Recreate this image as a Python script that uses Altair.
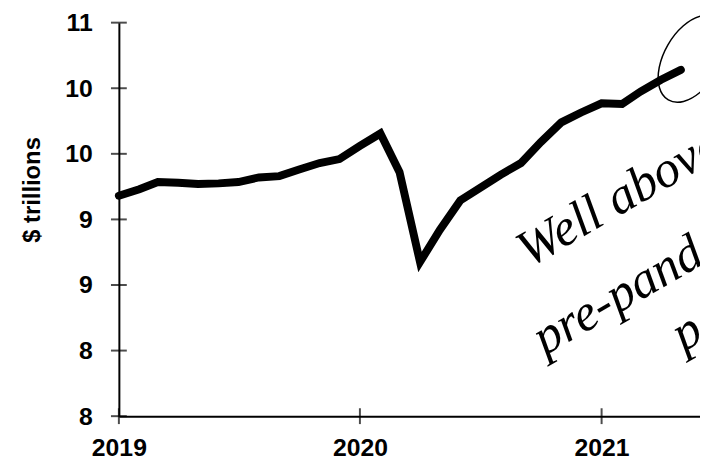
import altair as alt
import pandas as pd

# ---- data -------------------------------------------------------------
months = [f"{y}-{m:02d}-01" for y in (2019, 2020, 2021) for m in range(1, 13)][:29]
values_2019 = [9.68, 9.73, 9.785, 9.78, 9.77, 9.775, 9.785, 9.82, 9.83, 9.88, 9.93, 9.96]
values_2020 = [10.06, 10.155, 9.86, 9.175, 9.42, 9.645, 9.74, 9.84, 9.93, 10.09, 10.24, 10.315]
values_2021 = [10.385, 10.38, 10.475, 10.565, 10.64]
values = values_2019 + values_2020 + values_2021

y_ticks = [8, 8.5, 9, 9.5, 10, 10.5, 11]
x_ticks = ["2019-01-01", "2020-01-01", "2021-01-01"]
x_years = [2019, 2020, 2021]

ann_text = ["Well above", "pre-pandemic", "peak"]
ann_date = ["2020-09-13", "2020-10-07", "2021-05-05"]
ann_value = [9.13, 8.46, 8.49]

circle_date = ["2021-05-18"]
circle_value = [10.725]

df = pd.DataFrame({"date": months, "value": values})
df_yt = pd.DataFrame({"v": y_ticks})
df_xt = pd.DataFrame({"d": x_ticks})
df_ann = pd.DataFrame({"date": ann_date, "value": ann_value, "text": ann_text})
df_circ = pd.DataFrame({"date": circle_date, "value": circle_value})

# ---- chart ------------------------------------------------------------
W, H = 587, 397.5
FONT = "Liberation Sans"

x_scale = alt.Scale(
    type="utc",
    domain=[alt.DateTime(year=2019, month=1, date=1, utc=True),
            alt.DateTime(year=2021, month=5, date=30, utc=True)],
)
y_scale = alt.Scale(domain=[8, 11], zero=False, nice=False)

x_axis = alt.Axis(
    values=[alt.DateTime(year=y, month=1, date=1, utc=True) for y in x_years],
    labelExpr="utcFormat(datum.value, '%Y')",
    ticks=False, grid=False, domainColor="black", domainWidth=2,
    labelFont=FONT, labelFontSize=25, labelFontWeight="bold", labelColor="black",
    labelPadding=20, labelFlush=False, title=None,
)
y_axis = alt.Axis(
    values=y_ticks, labelExpr="floor(datum.value)",
    ticks=False, grid=False, domainColor="black", domainWidth=2,
    labelFont=FONT, labelFontSize=25, labelFontWeight="bold", labelColor="black",
    labelPadding=27,
    title="$ trillions", titleX=-80, titleY=168.5, titleAngle=270,
    titleAlign="center", titleBaseline="alphabetic",
    titleFont=FONT, titleFontSize=24, titleFontWeight="bold", titleColor="black",
)

line = alt.Chart(df).mark_line(
    color="black", strokeWidth=8, strokeCap="round", strokeJoin="miter"
).encode(
    x=alt.X("date:T", scale=x_scale, axis=x_axis),
    y=alt.Y("value:Q", scale=y_scale, axis=y_axis),
)

yticks = alt.Chart(df_yt).mark_tick(
    color="black", thickness=2, size=16, orient="horizontal"
).encode(
    y=alt.Y("v:Q", scale=y_scale),
    x=alt.value(0),
)

xticks = alt.Chart(df_xt).mark_tick(
    color="black", thickness=2, size=16, orient="vertical"
).encode(
    x=alt.X("d:T", scale=x_scale),
    y=alt.Y(datum=8, type="quantitative", scale=y_scale),
)

ann = alt.Chart(df_ann).mark_text(
    angle=330, align="left", baseline="alphabetic",
    font="Liberation Serif", fontStyle="italic", fontSize=52, color="black",
).encode(
    x=alt.X("date:T", scale=x_scale),
    y=alt.Y("value:Q", scale=y_scale),
    text="text:N",
)

ellipse_path = "M -0.5 0.866 A 0.583 1 30 1 1 0.5 -0.866 A 0.583 1 30 1 1 -0.5 0.866 Z"
circ = alt.Chart(df_circ).mark_point(
    shape=ellipse_path, size=9216, filled=False, color="black", strokeWidth=1.5, opacity=1,
).encode(
    x=alt.X("date:T", scale=x_scale),
    y=alt.Y("value:Q", scale=y_scale),
)

chart = alt.layer(line, yticks, xticks, ann, circ).properties(
    width=W, height=H,
    autosize=alt.AutoSizeParams(type="none"),
    padding={"left": 112, "top": 12.5, "right": 0, "bottom": 45},
).configure_view(stroke=None)

chart.save("out.html", embed_options={"renderer": "svg", "actions": False})
